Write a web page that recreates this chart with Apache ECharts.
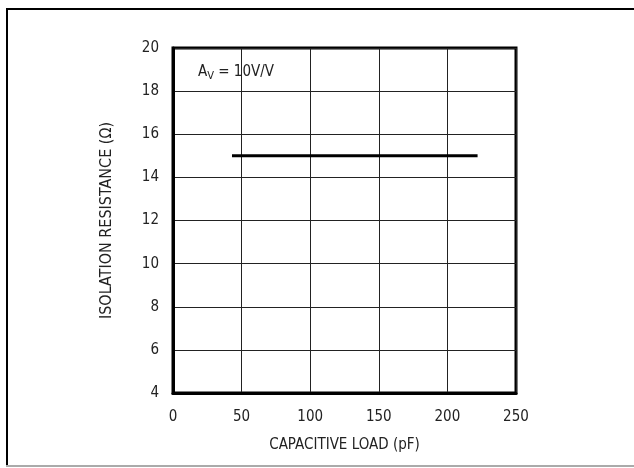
<!DOCTYPE html>
<html>
<head>
<meta charset="utf-8">
<script src="https://cdn.jsdelivr.net/npm/echarts@6/dist/echarts.min.js"></script>
<style>
  html, body { margin: 0; padding: 0; background: #fff; }
  #chart { width: 634px; height: 468px; }
</style>
</head>
<body>
<div id="chart"></div>
<script>
// capacitive load (pF) vs isolation resistance (ohm)
const loadPF = [43, 222];
const resistance = [15, 15];
const xTicks = [0, 50, 100, 150, 200, 250];
const yTicks = [4, 6, 8, 10, 12, 14, 16, 18, 20];

const font = '"Liberation Sans Narrow", "DejaVu Sans Condensed", "Liberation Sans", sans-serif';

let myChart = echarts.init(document.getElementById("chart"));
myChart.setOption({
  animation: false,
  backgroundColor: "#fff",
  grid: {
    left: 173,
    top: 48,
    right: 118,
    bottom: 75,
    show: true,
    borderColor: "#000",
    borderWidth: 3,
  },
  xAxis: {
    type: "value",
    min: xTicks[0],
    max: xTicks[xTicks.length - 1],
    interval: 50,
    name: "CAPACITIVE LOAD (pF)",
    nameLocation: "middle",
    nameGap: 45,
    nameTextStyle: { fontFamily: font, fontSize: 15, color: "#222" },
    axisLine: { show: true, lineStyle: { color: "#000", width: 3 } },
    axisTick: { show: false },
    axisLabel: { margin: 17, fontFamily: font, fontSize: 15, color: "#222" },
    splitLine: { show: true, lineStyle: { color: "#222", width: 1 } },
  },
  yAxis: {
    type: "value",
    min: yTicks[0],
    max: yTicks[yTicks.length - 1],
    interval: 2,
    name: "ISOLATION RESISTANCE (Ω)",
    nameLocation: "middle",
    nameGap: 58,
    nameTextStyle: { fontFamily: font, fontSize: 16, color: "#222" },
    axisLine: { show: true, lineStyle: { color: "#000", width: 3 } },
    axisTick: { show: false },
    axisLabel: { margin: 14, fontFamily: font, fontSize: 15, color: "#222" },
    splitLine: { show: true, lineStyle: { color: "#222", width: 1 } },
  },
  graphic: [
    {
      type: "polyline",
      shape: { points: [[7, 466], [7, 9], [640, 9]] },
      style: { fill: "none", stroke: "#000", lineWidth: 2 },
      silent: true,
    },
    {
      type: "line",
      shape: { x1: 6, y1: 466, x2: 640, y2: 466 },
      style: { stroke: "#aaa", lineWidth: 2 },
      silent: true,
    },
    {
      type: "text",
      left: 198,
      top: 65,
      style: {
        text: "{a|A}{s|V}{a| = 10V/V}",
        rich: {
          a: { fontFamily: font, fontSize: 15, fill: "#222" },
          s: { fontFamily: font, fontSize: 11, fill: "#222", padding: [8, 0, 0, 0] },
        },
      },
    },
  ],
  series: [
    {
      type: "line",
      data: loadPF.map((x, i) => [x, resistance[i]]),
      symbol: "none",
      lineStyle: { color: "#000", width: 3 },
    },
  ],
});
</script>
</body>
</html>
